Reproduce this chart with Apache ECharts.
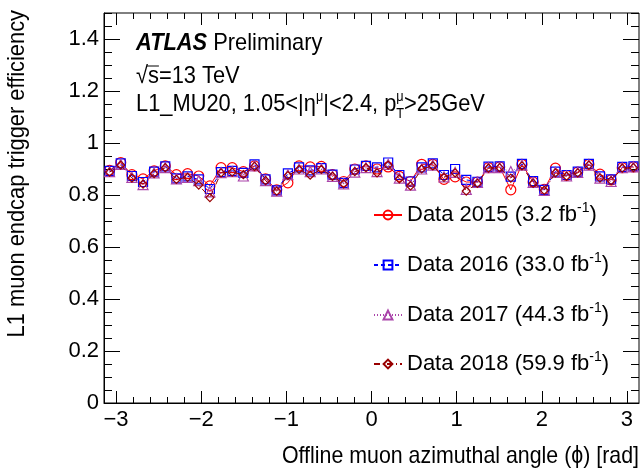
<!DOCTYPE html>
<html><head><meta charset="utf-8">
<script src="https://cdn.jsdelivr.net/npm/echarts@6/dist/echarts.min.js"></script>
<style>html,body{margin:0;padding:0;background:#fff}#c{width:642px;height:471px}</style>
</head><body><div id="c"></div>
<script>
// ---- data ----
const phi = [-3.076,-2.945,-2.814,-2.683,-2.553,-2.422,-2.291,-2.160,-2.029,-1.898,-1.767,-1.636,-1.505,-1.374,-1.244,-1.113,-0.982,-0.851,-0.720,-0.589,-0.458,-0.327,-0.196,-0.065,
             0.065,0.196,0.327,0.458,0.589,0.720,0.851,0.982,1.113,1.244,1.374,1.505,1.636,1.767,1.898,2.029,2.160,2.291,2.422,2.553,2.683,2.814,2.945,3.076];
const eff2015 = [0.895,0.925,0.878,0.862,0.893,0.912,0.878,0.882,0.873,0.835,0.905,0.905,0.890,0.912,0.862,0.820,0.847,0.912,0.908,0.910,0.878,0.852,0.900,0.912,
                 0.900,0.908,0.872,0.852,0.918,0.918,0.860,0.870,0.850,0.850,0.905,0.908,0.820,0.918,0.850,0.822,0.903,0.875,0.888,0.918,0.880,0.858,0.905,0.908];
const eff2016 = [0.893,0.922,0.873,0.850,0.890,0.910,0.864,0.872,0.860,0.823,0.888,0.893,0.885,0.918,0.860,0.818,0.883,0.906,0.895,0.903,0.878,0.847,0.898,0.912,
                 0.906,0.925,0.877,0.852,0.906,0.922,0.877,0.900,0.858,0.851,0.909,0.910,0.871,0.920,0.853,0.820,0.890,0.877,0.890,0.920,0.872,0.860,0.908,0.910];
const eff2017 = [0.890,0.918,0.868,0.840,0.885,0.905,0.862,0.868,0.855,0.812,0.886,0.890,0.873,0.912,0.855,0.815,0.878,0.900,0.890,0.900,0.872,0.843,0.888,0.905,
                 0.890,0.918,0.865,0.838,0.900,0.915,0.870,0.887,0.822,0.848,0.905,0.905,0.890,0.915,0.848,0.818,0.887,0.873,0.887,0.915,0.865,0.852,0.905,0.908];
const eff2018 = [0.888,0.915,0.865,0.842,0.882,0.905,0.860,0.868,0.838,0.790,0.885,0.888,0.878,0.910,0.855,0.815,0.875,0.898,0.876,0.898,0.872,0.843,0.890,0.905,
                 0.885,0.915,0.862,0.835,0.900,0.912,0.868,0.885,0.815,0.845,0.903,0.905,0.865,0.912,0.845,0.818,0.885,0.872,0.885,0.915,0.865,0.855,0.903,0.905];
const seriesNames = ['Data 2015','Data 2016','Data 2017','Data 2018'];
const lumis = ['3.2','33.0','44.3','59.9'];
const xTickLabels = [-3,-2,-1,0,1,2,3];
const yTickLabels = [0,0.2,0.4,0.6,0.8,1,1.2,1.4];

// ---- style ----
const FAMILY = '"Liberation Sans",Arial,sans-serif';
const FS = 24;      // free text size
const SX = 0.91;    // horizontal condensing of free text (narrow Helvetica look)
const LFS = 22;     // legend / tick label size
const colors = ['#ff0000','#0000ff','#aa44aa','#990000'];
const symbols = ['circle','rect','triangle','diamond'];
const symSizes = [10,9,10,8];
const lineTypes = ['solid',[4,3],[1,2],[6,3,1,3]];
const effs = [eff2015,eff2016,eff2017,eff2018];

const xMinor = []; for (let k=-15;k<=15;k++){ if(k%5!==0) xMinor.push(k/5); }
const yMinor = []; for (let k=0;k<=30;k++){ if(k%4!==0) yMinor.push(k/20); }

const ctx = document.createElement('canvas').getContext('2d');
function fontStr(p){ return (p.italic?'italic ':'')+(p.bold?'bold ':'')+(p.size||FS)+'px '+FAMILY; }
function runs(x0, base, parts){
  const els=[]; let x=x0; const pos=[];
  parts.forEach(p=>{
    const f=fontStr(p); ctx.font=f;
    const w=ctx.measureText(p.text).width*SX;
    const s=p.size||FS;
    els.push({type:'text', x:x, y: base+(p.dy||0)-0.3465*s, scaleX:SX, silent:true,
      style:{text:p.text, font:f, fill:'#000', align:'left', verticalAlign:'middle'}});
    pos.push([x,w]);
    if(!p.noAdvance) x+=w;
  });
  return {els,pos};
}
const B1=52, B2=85, B3=113;
const g1 = runs(136, B1, [{text:'ATLAS',bold:true,italic:true},{text:' Preliminary'}]);
const g2 = runs(136, B2, [{text:'\u221A'},{text:'s'},{text:'=13 TeV'}]);
const sPos = g2.pos[1];
g2.els.push({type:'line', silent:true, shape:{x1:sPos[0]-1, y1:B2-19, x2:sPos[0]+sPos[1], y2:B2-19}, style:{stroke:'#000', lineWidth:1}});
const g3 = runs(136, B3, [{text:'L1_MU20, 1.05<|\u03B7'},{text:'\u03BC',size:14,dy:-11},{text:'|<2.4, p'},
                           {text:'\u03BC',size:14,dy:-11,noAdvance:true},{text:'T',size:14,dy:6},{text:'>25GeV'}]);

const legendCenters = [215,265,315,364];

const chart = echarts.init(document.getElementById('c'), null, {renderer:'canvas'});
const axisCommon = {type:'value', min:-Math.PI, max:Math.PI, splitLine:{show:false}};
const yCommon = {type:'value', min:0, max:1.5, splitLine:{show:false}};
const tickStyle = {color:'#000', width:1};
chart.setOption({
  animation:false,
  backgroundColor:'#fff',
  grid:{left:104, right:3, top:13, bottom:68, show:true, borderColor:'#000', borderWidth:1, backgroundColor:'transparent'},
  xAxis:[
    Object.assign({}, axisCommon, {position:'bottom', axisLine:{onZero:false, lineStyle:{color:'#000',width:1}},
      axisTick:{inside:true, length:12, customValues:xTickLabels, lineStyle:tickStyle},
      axisLabel:{customValues:xTickLabels, fontSize:LFS, fontFamily:FAMILY, color:'#000', margin:6,
        formatter:v=> v<0 ? '\u2212'+Math.abs(v) : String(v)}}),
    Object.assign({}, axisCommon, {position:'bottom', axisLine:{show:false, onZero:false},
      axisTick:{inside:true, length:6, customValues:xMinor, lineStyle:tickStyle}, axisLabel:{show:false}}),
    Object.assign({}, axisCommon, {position:'top', axisLine:{show:false, onZero:false},
      axisTick:{inside:true, length:12, customValues:xTickLabels, lineStyle:tickStyle}, axisLabel:{show:false}}),
    Object.assign({}, axisCommon, {position:'top', axisLine:{show:false, onZero:false},
      axisTick:{inside:true, length:6, customValues:xMinor, lineStyle:tickStyle}, axisLabel:{show:false}})
  ],
  yAxis:[
    Object.assign({}, yCommon, {position:'left', axisLine:{show:true, onZero:false, lineStyle:{color:'#000',width:1}},
      axisTick:{inside:true, length:16, customValues:yTickLabels, lineStyle:tickStyle},
      axisLabel:{customValues:yTickLabels, fontSize:LFS, fontFamily:FAMILY, color:'#000', margin:5, formatter:v=>String(v)}}),
    Object.assign({}, yCommon, {position:'left', axisLine:{show:false, onZero:false},
      axisTick:{inside:true, length:8, customValues:yMinor, lineStyle:tickStyle}, axisLabel:{show:false}}),
    Object.assign({}, yCommon, {position:'right', axisLine:{show:false, onZero:false},
      axisTick:{inside:true, length:16, customValues:yTickLabels, lineStyle:tickStyle}, axisLabel:{show:false}}),
    Object.assign({}, yCommon, {position:'right', axisLine:{show:false, onZero:false},
      axisTick:{inside:true, length:8, customValues:yMinor, lineStyle:tickStyle}, axisLabel:{show:false}})
  ],
  legend: seriesNames.map((n,i)=>({
    data:[n], left:373, top:legendCenters[i]-14, orient:'vertical', padding:0, itemGap:0,
    itemWidth:28, itemHeight:11, selectedMode:false,
    formatter: name => '{a|'+name+' ('+lumis[i]+' fb}{s|-1}{a|)}',
    textStyle:{color:'#000', fontFamily:FAMILY, fontSize:LFS,
      rich:{a:{fontSize:LFS, fontFamily:FAMILY, color:'#000', lineHeight:28},
            s:{fontSize:14, fontFamily:FAMILY, color:'#000', lineHeight:14, verticalAlign:'top'}}}
  })),
  series: seriesNames.map((n,i)=>({
    name:n, type:'line', xAxisIndex:0, yAxisIndex:0,
    data: phi.map((x,k)=>[x, effs[i][k]]),
    symbol:symbols[i], symbolSize:symSizes[i], showSymbol:true, showAllSymbol:true,
    lineStyle:{color:colors[i], width:1, type:lineTypes[i]},
    itemStyle:{color:'rgba(255,255,255,0)', borderColor:colors[i], borderWidth:1.2},
    emphasis:{disabled:true}, z:2+i
  })),
  graphic:[].concat(g1.els, g2.els, g3.els, [
    {type:'text', x:17, y:10, rotation:Math.PI/2, scaleX:SX, silent:true,
      style:{text:'L1 muon endcap trigger efficiency', font:FS+'px '+FAMILY, fill:'#000', align:'right', verticalAlign:'middle'}},
    {type:'text', x:639, y:456, scaleX:0.89, silent:true,
      style:{text:'Offline muon azimuthal angle (\u03D5) [rad]', font:FS+'px '+FAMILY, fill:'#000', align:'right', verticalAlign:'middle'}}
  ])
});
</script></body></html>
